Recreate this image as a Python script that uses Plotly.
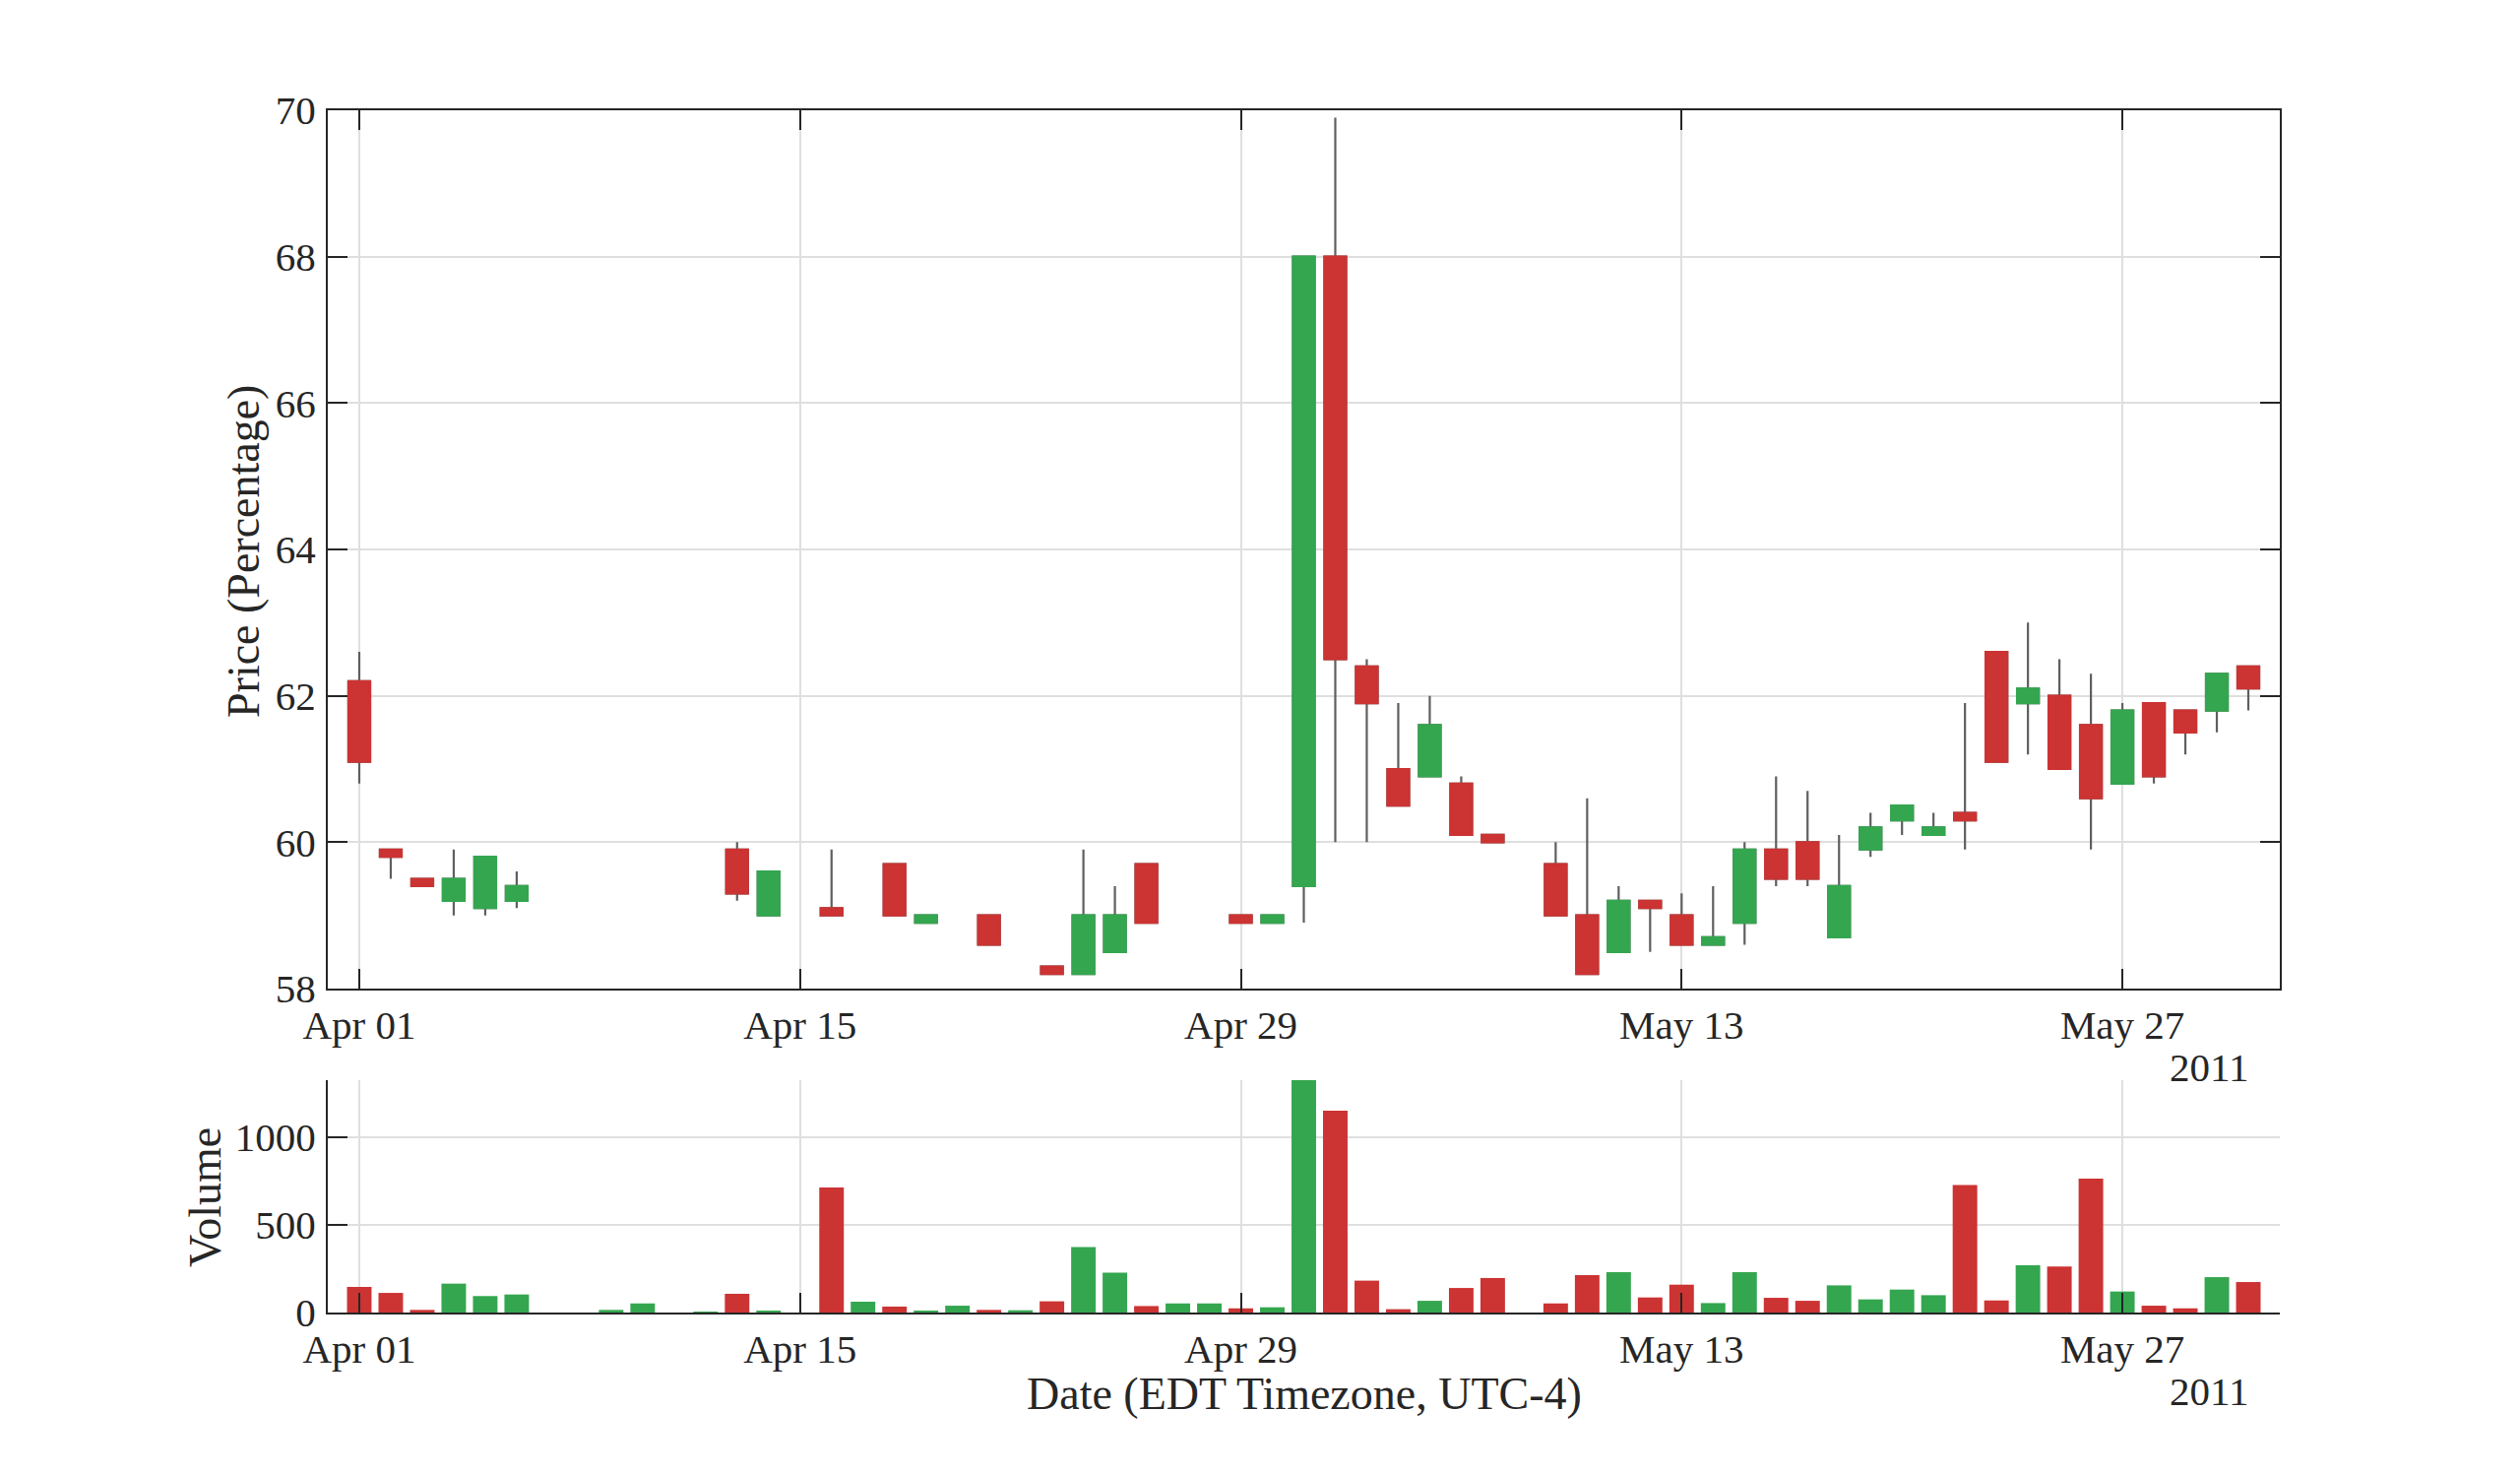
import pandas as pd
import plotly.graph_objects as go

# ---------------- data ----------------
dates = pd.date_range("2011-04-01", "2011-05-31", freq="D")
N = None
open_ = [62.2, 59.9, 59.5, 59.2, 59.1, 59.2, N, N, N, N, N, N, 59.9, 59.0, N, 59.1, N, 59.7, 58.9, N,
         59.0, N, 58.3, 58.2, 58.5, 59.7, N, N, 59.0, 58.9,
         59.4, 68.0, 62.4, 61.0, 60.9, 60.8, 60.1, N, 59.7, 59.0, 58.5, 59.2, 59.0, 58.6, 58.9, 59.9,
         60.0, 58.7, 59.9, 60.3, 60.1, 60.4, 62.6, 61.9, 62.0, 61.6, 60.8, 61.9, 61.8, 61.8, 62.4]
high = [62.6, 59.9, 59.5, 59.9, 59.8, 59.6, N, N, N, N, N, N, 60.0, 59.6, N, 59.9, N, 59.7, 59.0, N,
        59.0, N, 58.3, 59.9, 59.4, 59.7, N, N, 59.0, 59.0,
        68.0, 69.9, 62.5, 61.9, 62.0, 60.9, 60.1, N, 60.0, 60.6, 59.4, 59.2, 59.3, 59.4, 60.0, 60.9,
        60.7, 60.1, 60.4, 60.5, 60.4, 61.9, 62.6, 63.0, 62.5, 62.3, 61.9, 61.9, 61.8, 62.3, 62.4]
low = [60.8, 59.5, 59.4, 59.0, 59.0, 59.1, N, N, N, N, N, N, 59.2, 59.0, N, 59.0, N, 59.0, 58.9, N,
       58.6, N, 58.2, 58.2, 58.5, 58.9, N, N, 58.9, 58.9,
       58.9, 60.0, 60.0, 60.5, 60.9, 60.1, 60.0, N, 59.0, 58.2, 58.5, 58.5, 58.6, 58.6, 58.6, 59.4,
       59.4, 58.7, 59.8, 60.1, 60.1, 59.9, 61.1, 61.2, 61.0, 59.9, 60.8, 60.8, 61.2, 61.5, 61.8]
close = [61.1, 59.8, 59.4, 59.5, 59.8, 59.4, N, N, N, N, N, N, 59.3, 59.6, N, 59.0, N, 59.0, 59.0, N,
         58.6, N, 58.2, 59.0, 59.0, 58.9, N, N, 58.9, 59.0,
         68.0, 62.5, 61.9, 60.5, 61.6, 60.1, 60.0, N, 59.0, 58.2, 59.2, 59.1, 58.6, 58.7, 59.9, 59.5,
         59.5, 59.4, 60.2, 60.5, 60.2, 60.3, 61.1, 62.1, 61.0, 60.6, 61.8, 60.9, 61.5, 62.3, 62.1]
volume = [146, 112, 15, 165, 94, 103, 0, 0, 15, 52, 0, 5, 107, 9, 0, 713, 62, 34, 7, 39,
          15, 13, 64, 373, 228, 37, 52, 52, 24, 30,
          1330, 1152, 182, 19, 67, 140, 197, 0, 52, 213, 230, 86, 159, 54, 230, 84,
          67, 155, 75, 131, 99, 727, 69, 270, 262, 764, 120, 39, 24, 202, 174]

tick_dates = ["2011-04-01", "2011-04-15", "2011-04-29", "2011-05-13", "2011-05-27"]
tick_text = ["Apr 01", "Apr 15", "Apr 29", "May 13", "May 27"]
price_ticks = [58, 60, 62, 64, 66, 68, 70]
volume_ticks = [0, 500, 1000]

# ---------------- styles ----------------
OFF = 8                      # page body margin
FW, FH = 2560 - 2 * OFF, 1498 - 2 * OFF
RED = "#cc3333"
GREEN = "#34a64f"
WICK = "#5f5f5f"
TXT = "#262626"
GRID = "#dfdfdf"
FONT = "Liberation Serif"


def px(xp):
    return (xp - OFF) / FW


def py(yp):
    return 1 - (yp - OFF) / FH


# candles that exist
idx = [i for i in range(len(dates)) if open_[i] is not None]
cx = [dates[i] for i in idx]
co = [open_[i] for i in idx]
ch = [high[i] for i in idx]
cl = [low[i] for i in idx]
cc = [close[i] for i in idx]
body_hi = [max(o, c) for o, c in zip(co, cc)]
body_lo = [min(o, c) for o, c in zip(co, cc)]

vol_colors = []
for i in range(len(dates)):
    if open_[i] is not None and close[i] < open_[i]:
        vol_colors.append(RED)
    else:
        vol_colors.append(GREEN)

fig = go.Figure()

# wicks
fig.add_trace(go.Candlestick(
    x=cx, open=co, high=ch, low=cl, close=cc,
    increasing=dict(line=dict(color=WICK, width=2.2), fillcolor=WICK),
    decreasing=dict(line=dict(color=WICK, width=2.2), fillcolor=WICK),
    whiskerwidth=0, hoverinfo="skip", showlegend=False,
    xaxis="x", yaxis="y"))
# bodies
fig.add_trace(go.Candlestick(
    x=cx, open=co, high=body_hi, low=body_lo, close=cc,
    increasing=dict(line=dict(color=GREEN, width=2.2), fillcolor=GREEN),
    decreasing=dict(line=dict(color=RED, width=2.2), fillcolor=RED),
    whiskerwidth=0, hoverinfo="skip", showlegend=False,
    xaxis="x", yaxis="y"))

fig.add_trace(go.Bar(
    x=list(dates), y=volume, marker=dict(color=vol_colors, line=dict(width=0)),
    hoverinfo="skip", showlegend=False, xaxis="x2", yaxis="y2"))

# ---------------- layout ----------------
xl, xr = px(333), px(2316)
main_bot, main_top = py(1004), py(112)
vol_bot, vol_top = py(1333), py(1097)

xrange = ["2011-03-31", "2011-06-01"]
tickfont = dict(family=FONT, size=41, color=TXT)

common_x = dict(
    type="date", range=xrange, tickmode="array", tickvals=tick_dates, ticktext=tick_text,
    ticks="inside", ticklen=20, tickwidth=1.5, tickcolor=TXT,
    showline=True, linecolor=TXT, linewidth=2,
    showgrid=True, gridcolor=GRID, gridwidth=1.5, zeroline=False,
    tickfont=tickfont, ticklabelstandoff=0, automargin=False,
)
common_y = dict(
    tickmode="array", ticks="inside", ticklen=20, tickwidth=1.5, tickcolor=TXT,
    showline=True, linecolor=TXT, linewidth=2,
    showgrid=True, gridcolor=GRID, gridwidth=1.5, zeroline=False,
    tickfont=tickfont, ticklabelstandoff=2, automargin=False,
)

fig.update_layout(
    width=FW, height=FH,
    margin=dict(l=0, r=0, t=0, b=0),
    paper_bgcolor="white", plot_bgcolor="white",
    font=dict(family=FONT, color=TXT),
    boxgap=0.31, boxgroupgap=0, boxmode="overlay",
    bargap=0.22,
    xaxis=dict(domain=[xl, xr], anchor="y", mirror="allticks",
               rangeslider=dict(visible=False), **common_x),
    yaxis=dict(domain=[main_bot, main_top], anchor="x", range=[58, 70],
               tickvals=price_ticks, mirror="allticks", **common_y),
    xaxis2=dict(domain=[xl, xr], anchor="y2", mirror=False,
                rangeslider=dict(visible=False), **common_x),
    yaxis2=dict(domain=[vol_bot, vol_top], anchor="x2", range=[0, 1326],
                tickvals=volume_ticks, mirror=False, **common_y),
)

title_font = dict(family=FONT, size=46, color=TXT)
ann_font = dict(family=FONT, size=41, color=TXT)
fig.add_annotation(text="Price (Percentage)", xref="paper", yref="paper",
                   x=px(247), y=py(560), textangle=-90, showarrow=False,
                   xanchor="center", yanchor="middle", font=title_font)
fig.add_annotation(text="Volume", xref="paper", yref="paper",
                   x=px(208), y=py(1216), textangle=-90, showarrow=False,
                   xanchor="center", yanchor="middle", font=title_font)
fig.add_annotation(text="Date (EDT Timezone, UTC-4)", xref="paper", yref="paper",
                   x=px(1325), y=py(1415), showarrow=False,
                   xanchor="center", yanchor="middle", font=title_font)
for yy in (1084, 1413):
    fig.add_annotation(text="2011", xref="paper", yref="paper",
                       x=px(2286), y=py(yy), showarrow=False,
                       xanchor="right", yanchor="middle", font=ann_font)

fig.write_html("out.html")
